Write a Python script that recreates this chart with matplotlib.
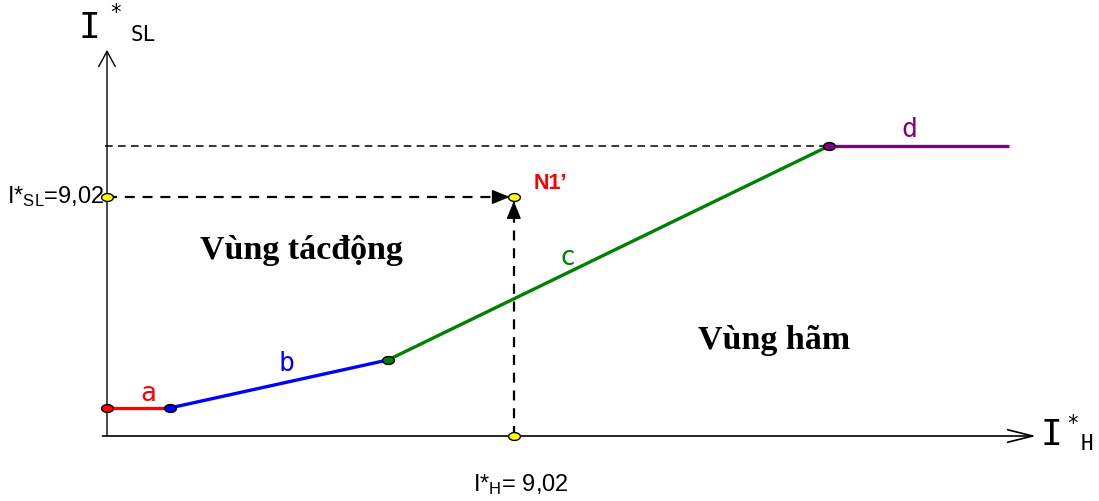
import numpy as np
import matplotlib
matplotlib.use("Agg")
import matplotlib.pyplot as plt
from matplotlib.path import Path

plt.rcParams['mathtext.fontset'] = 'custom'
plt.rcParams['mathtext.rm'] = 'Liberation Sans'
plt.rcParams['mathtext.it'] = 'Liberation Sans'

# characteristic breakpoints (I*H, I*SL)
seg_x = [0.0, 1.40, 6.23, 16.0, 20.0]
seg_y = [1.06, 1.06, 2.87, 10.94, 10.94]
seg_colors = ['#ff0000', '#0000ff', '#008000', '#800080']
seg_labels = ['a', 'b', 'c', 'd']
n1_x, n1_y = 9.02, 9.02

# scale: pixels per unit (diagram only)
sx, sy = 45.1, 26.5
ox, oy = 107, 436

fig = plt.figure(figsize=(10.99, 5.01), dpi=100)
ax = fig.add_axes([0, 0, 1, 1])
ax.set_xlim(-ox / sx, (1099 - ox) / sx)
ax.set_ylim((oy - 501) / sy, oy / sy)
ax.axis('off')

# axes with open arrow heads
ax.annotate('', xy=(20.6, 0), xytext=(-0.1, 0),
            arrowprops=dict(arrowstyle='->,head_length=1.8,head_width=0.45',
                            lw=1.2, color='black', shrinkA=0, shrinkB=0))
ax.annotate('', xy=(0, 14.57), xytext=(0, 0),
            arrowprops=dict(arrowstyle='->,head_length=1.1,head_width=0.6',
                            lw=1.0, color='black', shrinkA=0, shrinkB=0))

# dashed helper lines
ax.plot([-0.05, seg_x[3]], [seg_y[3], seg_y[3]], color='black', lw=1.1,
        dashes=(5, 3.5))
ax.plot([0, n1_x], [n1_y, n1_y], color='black', lw=1.6, dashes=(4.5, 3.5))
ax.plot([n1_x, n1_x], [0, n1_y], color='black', lw=1.6, dashes=(4.5, 3.5))
ax.annotate('', xy=(n1_x, n1_y), xytext=(-14, 0), textcoords='offset points',
            arrowprops=dict(arrowstyle='-|>,head_length=1.1,head_width=0.45',
                            color='black', lw=1, shrinkA=0, shrinkB=3))
ax.annotate('', xy=(n1_x, n1_y), xytext=(0, -14), textcoords='offset points',
            arrowprops=dict(arrowstyle='-|>,head_length=1.1,head_width=0.45',
                            color='black', lw=1, shrinkA=0, shrinkB=3))

# characteristic segments
for i in range(4):
    ax.plot(seg_x[i:i + 2], seg_y[i:i + 2], color=seg_colors[i], lw=2.4,
            solid_capstyle='butt', zorder=3)

# ellipse marker
t = np.linspace(0, 2 * np.pi, 41)
ell = Path(np.c_[1.5 * np.cos(t), np.sin(t)])
for i in range(4):
    ax.plot(seg_x[i], seg_y[i], marker=ell, ms=8.5, mfc=seg_colors[i],
            mec='black', mew=1, zorder=4)
for px, py in [(n1_x, n1_y), (0, n1_y), (n1_x, 0)]:
    ax.plot(px, py, marker=ell, ms=8.5, mfc='#ffff00', mec='black', mew=1,
            zorder=4)

# segment labels
mono = 'DejaVu Sans Mono'
lab_pos = [(0.92, 1.6), (3.98, 2.7), (10.2, 6.7), (17.8, 11.55)]
for (lx, ly), s, c in zip(lab_pos, seg_labels, seg_colors):
    ax.text(lx, ly, s, color=c, fontsize=19, family=mono,
            ha='center', va='center')

# axis titles
ax.text(-0.38, 15.4, 'I', fontsize=26, family=mono, ha='center', va='center')
ax.text(0.2, 15.95, '*', fontsize=15, family=mono, ha='center', va='center')
ax.text(0.8, 15.15, 'SL', fontsize=15, family=mono, ha='center', va='center')
ax.text(20.95, 0.02, 'I', fontsize=26, family=mono, ha='center', va='center')
ax.text(21.4, 0.45, '*', fontsize=15, family=mono, ha='center', va='center')
ax.text(21.73, -0.3, 'H', fontsize=15, family=mono, ha='center', va='center')

# value labels
ax.text(-0.06, n1_y, 'I*$_{\\mathrm{SL}}$=9,02', fontsize=17,
        family='Liberation Sans', ha='right', va='center')
ax.text(n1_x + 0.15, -1.85, 'I*$_{\\mathrm{H}}$= 9,02', fontsize=17,
        family='Liberation Sans', ha='center', va='center')
ax.text(n1_x + 0.44, n1_y + 0.5, 'N1\u2019', fontsize=15.5, color='#ff0000',
        fontweight='bold', family='Liberation Sans', ha='left', va='center')

# regions
ax.text(2.07, 7.0, 'Vùng tácđộng', fontsize=24.5, fontweight='bold',
        family='Liberation Serif', ha='left', va='center')
ax.text(13.1, 3.6, 'Vùng hãm', fontsize=24.5, fontweight='bold',
        family='Liberation Serif', ha='left', va='center')

fig.savefig('out.png', dpi=100)
